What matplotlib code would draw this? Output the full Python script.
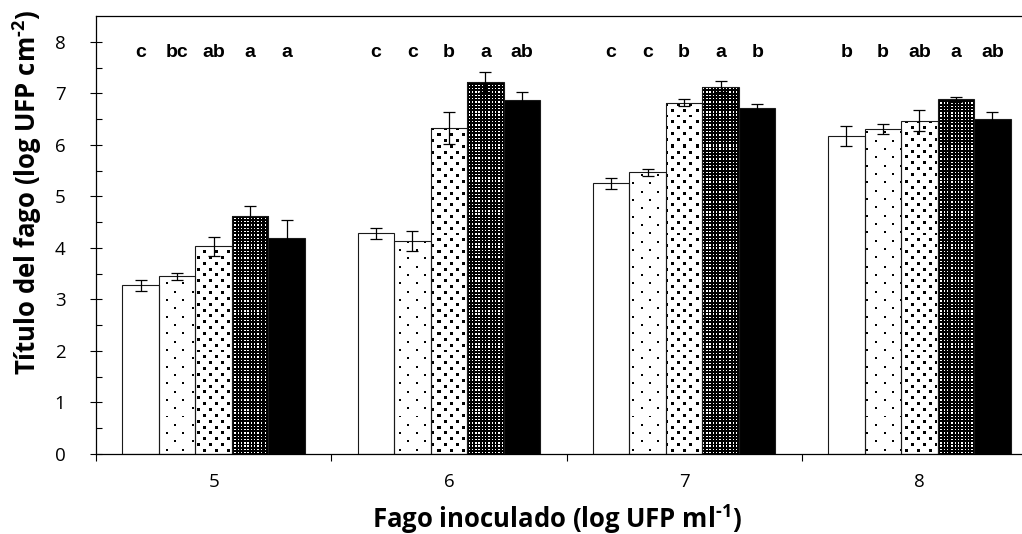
import numpy as np
import matplotlib
matplotlib.use("Agg")
import matplotlib.pyplot as plt

# Inoculated phage dose (log PFU/ml)
doses = ["5", "6", "7", "8"]

# Mean phage titre (log PFU/cm2) per treatment, one value per dose
titre_t1 = [3.27, 4.28, 5.25, 6.17]
titre_t2 = [3.45, 4.13, 5.47, 6.31]
titre_t3 = [4.03, 6.32, 6.82, 6.47]
titre_t4 = [4.61, 7.22, 7.13, 6.88]
titre_t5 = [4.20, 6.87, 6.72, 6.50]

# Standard errors
err_t1 = [0.10, 0.10, 0.10, 0.19]
err_t2 = [0.07, 0.20, 0.07, 0.10]
err_t3 = [0.18, 0.31, 0.07, 0.20]
err_t4 = [0.20, 0.19, 0.11, 0.05]
err_t5 = [0.35, 0.15, 0.07, 0.13]

# Significance letters per treatment, one per dose
letters_t1 = ["c", "c", "c", "b"]
letters_t2 = ["bc", "c", "c", "b"]
letters_t3 = ["ab", "b", "b", "ab"]
letters_t4 = ["a", "a", "a", "a"]
letters_t5 = ["a", "ab", "b", "ab"]

plt.rcParams["mathtext.fontset"] = "custom"
plt.rcParams["mathtext.rm"] = "Open Sans:bold"
plt.rcParams["mathtext.it"] = "Open Sans:bold"
plt.rcParams["mathtext.bf"] = "Open Sans:bold"

W_PX, H_PX = 1022, 534
fig = plt.figure(figsize=(W_PX / 100, H_PX / 100), dpi=100)
ax_left, ax_right, ax_top, ax_bottom = 96, 1037, 16, 454
ax = fig.add_axes([ax_left / W_PX, 1 - ax_bottom / H_PX,
                   (ax_right - ax_left) / W_PX, (ax_bottom - ax_top) / H_PX])

ax.set_xlim(-0.5, 3.5)
ax.set_ylim(0, 8.5)

series = [titre_t1, titre_t2, titre_t3, titre_t4, titre_t5]
errors = [err_t1, err_t2, err_t3, err_t4, err_t5]
letters = [letters_t1, letters_t2, letters_t3, letters_t4, letters_t5]
fills = ["white", "white", "white", "black", "black"]
textures = [None, "sparse", "medium", "dense", None]

x = np.arange(len(doses))
width = 0.1553


# Fill textures built in figure pixel space so that dots line up on the screen grid
def texture(kind, w, h, x0, y0):
    jj, ii = np.meshgrid(np.arange(w), np.arange(h))
    px = x0 + jj + 0.5
    py = y0 + ii + 0.5
    img = np.zeros((h, w, 4))
    if kind in ("sparse", "medium"):
        row_step, col_step, half = (8.33, 16.67, 1.0) if kind == "sparse" else (5.85, 11.7, 1.5)
        r = np.round(py / row_step)
        dy = py - r * row_step
        shift = 0.5 * (r % 2) * col_step
        c = np.round((px - shift) / col_step)
        dx = px - shift - c * col_step
        on = (np.abs(dx) < half) & (np.abs(dy) < half)
        img[on] = [0, 0, 0, 1]
    else:
        period, size = 3.3, 1.4
        on = ((px % period) < size) & ((py % period) < size)
        img[..., 3] = 1.0
        img[on] = [1, 1, 1, 1]
    return img


tw, th = ax_right - ax_left, ax_bottom - ax_top
tex_cache = {}

for k, (vals, errs, labs) in enumerate(zip(series, errors, letters)):
    pos = x + (k - 2) * width
    bars = ax.bar(pos, vals, width, color=fills[k], edgecolor="none",
                  linewidth=0, zorder=2)
    kind = textures[k]
    if kind is not None:
        if kind not in tex_cache:
            tex_cache[kind] = texture(kind, tw, th, ax_left, ax_top)
        for b in bars:
            im = ax.imshow(tex_cache[kind], extent=(-0.5, 3.5, 0, 8.5),
                           origin="upper", aspect="auto",
                           interpolation="nearest", zorder=2.2)
            im.set_clip_path(b)
    ax.bar(pos, vals, width, facecolor="none", edgecolor="#1a1a1a",
           linewidth=0.8, zorder=2.5)
    ax.errorbar(pos, vals, yerr=errs, fmt="none", ecolor="black",
                elinewidth=0.9, capsize=4, capthick=0.9, zorder=3)
    for p, lab in zip(pos, labs):
        ax.text(p, 7.70, lab, ha="center", va="baseline",
                fontfamily="Liberation Sans", fontweight="bold",
                fontsize=14, color="black")

ax.set_aspect("auto")
ax.set_xlim(-0.5, 3.5)
ax.set_ylim(0, 8.5)

# Axes frame
for side in ["left", "top", "bottom", "right"]:
    ax.spines[side].set_color("black")
    ax.spines[side].set_linewidth(0.9)

# y ticks
ax.set_yticks(np.arange(0, 9, 1))
ax.set_yticks(np.arange(0.5, 8.5, 1), minor=True)
ax.tick_params(axis="y", which="major", direction="inout", length=8,
               width=0.8, pad=18, labelsize=13.5)
ax.tick_params(axis="y", which="minor", direction="in", length=4, width=0.8)
for t in ax.get_yticklabels():
    t.set_fontfamily("Open Sans")

# x ticks: marks between groups, labels under group centres
ax.set_xticks([-0.5, 0.5, 1.5, 2.5, 3.5])
ax.set_xticklabels([])
ax.set_xticks(x, minor=True)
ax.set_xticklabels(doses, minor=True, fontfamily="Open Sans", fontsize=13.5)
ax.tick_params(axis="x", which="major", direction="out", length=5, width=0.8)
ax.tick_params(axis="x", which="minor", length=0, pad=14)

fig.text(557 / W_PX, 1 - 519 / H_PX, r"Fago inoculado (log UFP ml$^{\text{-1}}$)",
         ha="center", va="center", fontfamily="Open Sans", fontweight="bold",
         fontsize=18.5)
fig.text(27 / W_PX, 1 - 192 / H_PX, r"Título del fago (log UFP cm$^{\text{-2}}$)",
         ha="center", va="center", rotation=90, fontfamily="Open Sans",
         fontweight="bold", fontsize=18.5)

fig.savefig("out.png", dpi=100)
